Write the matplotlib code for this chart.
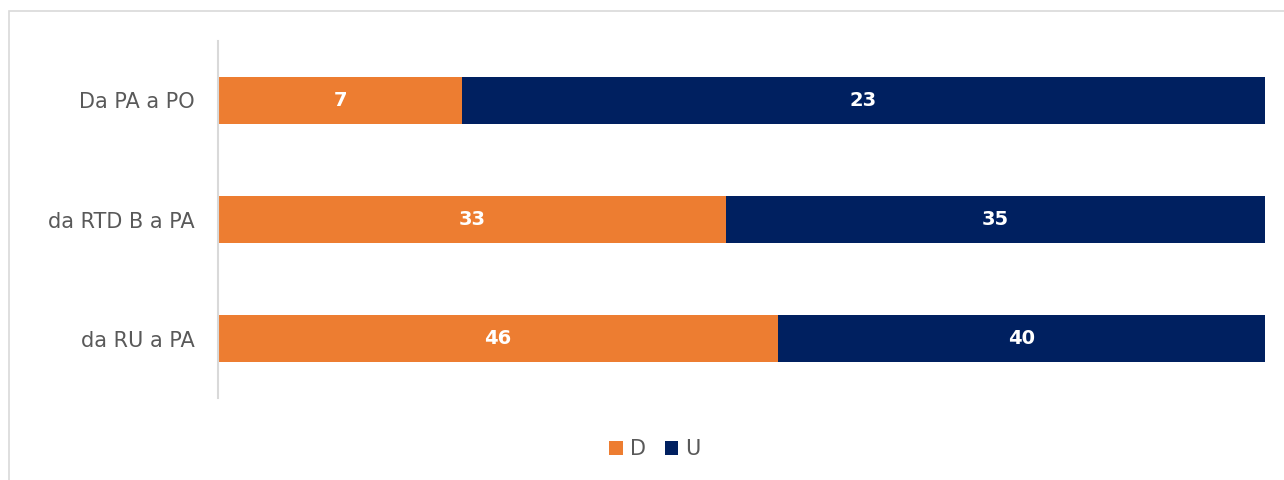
import matplotlib.pyplot as plt
from matplotlib.patches import Rectangle
import numpy as np

# Transfers between roles (counts), shown as 100% stacked bars
categories = ['Da PA a PO', 'da RTD B a PA', 'da RU a PA']
series_names = ['D', 'U']
d_values = [7, 33, 46]
u_values = [23, 35, 40]

colors = ['#ED7D31', '#002060']

plt.rcParams['font.family'] = ['DejaVu Sans']

fig = plt.figure(figsize=(12.84, 4.8), dpi=100)
ax = fig.add_axes([0.1698, 0.1708, 0.8152, 0.7438])

# outer frame of the chart area
fig.patches.append(Rectangle((9 / 1284, -0.1), 1.2, 0.1 + 1 - 11 / 480,
                             transform=fig.transFigure, fill=False,
                             edgecolor='#D9D9D9', linewidth=1.2))

y = np.arange(len(categories))
d = np.array(d_values, dtype=float)
u = np.array(u_values, dtype=float)
total = d + u
d_share = d / total
u_share = u / total

bar_h = 0.395
bars_d = ax.barh(y, d_share, height=bar_h, color=colors[0], label=series_names[0])
bars_u = ax.barh(y, u_share, left=d_share, height=bar_h, color=colors[1],
                 label=series_names[1])

# value labels in the middle of each segment
for bars, vals in ((bars_d, d_values), (bars_u, u_values)):
    for bar, v in zip(bars, vals):
        ax.text(bar.get_x() + bar.get_width() / 2, bar.get_y() + bar.get_height() / 2,
                str(v), ha='center', va='center', color='white',
                fontsize=14, fontweight='bold')

ax.set_xlim(0, 1)
ax.set_ylim(2.5, -0.5)
ax.set_yticks(y)
ax.set_yticklabels(categories, fontsize=15, color='#595959')
ax.tick_params(axis='y', length=0, pad=17)
ax.set_xticks([])

for side in ('top', 'right', 'bottom'):
    ax.spines[side].set_visible(False)
ax.spines['left'].set_color('#D9D9D9')
ax.spines['left'].set_linewidth(1.5)

fig.legend(loc='center', bbox_to_anchor=(655 / 1284, 1 - 449 / 480), ncol=2,
           frameon=False, fontsize=15, labelcolor='#595959',
           handlelength=0.65, handleheight=0.65, handletextpad=0.35,
           columnspacing=0.9)

fig.savefig('out.png', dpi=100)
